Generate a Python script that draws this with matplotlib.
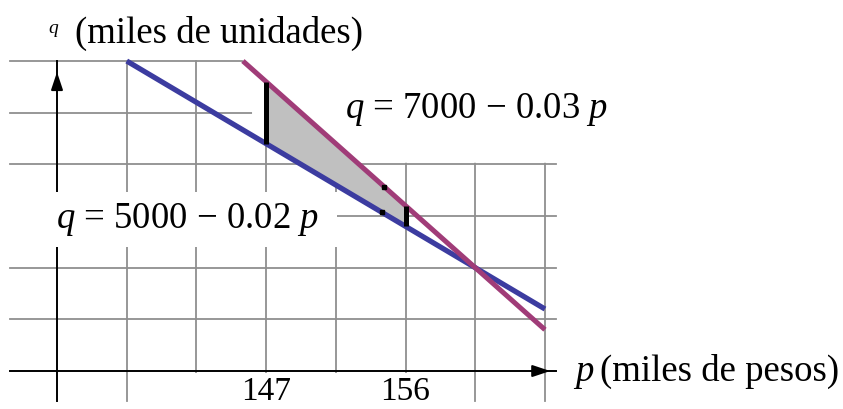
import numpy as np
import matplotlib
matplotlib.use('Agg')
import matplotlib.pyplot as plt
from matplotlib.patches import Rectangle, Polygon

plt.rcParams['font.family'] = 'Liberation Serif'
plt.rcParams['mathtext.fontset'] = 'custom'
plt.rcParams['mathtext.rm'] = 'Liberation Serif'
plt.rcParams['mathtext.it'] = 'Liberation Serif:italic'

### Data (p in thousands of pesos, q in grid units)
p_ticks = [147, 156]
p_tick_labels = ['147', '156']
p_grid = [138, 142.5, 147, 151.5, 156, 160.5, 165]
q_grid = [1, 2, 3, 4, 5, 6]

# q = 5000 - 0.02 p
line_a_p = [138, 165]
line_a_q = [6.0, 1.2]
# q = 7000 - 0.03 p
line_b_p = [145.5, 165]
line_b_q = [6.0, 0.8]

# shaded strip between the two lines
area_p = [147, 156]
area_low = [4.4, 2.8]
area_high = [5.6, 3.2]

# stray dots next to the strip
dot_p = [154.5, 154.6]
dot_q = [3.08, 3.56]

grid_color = '#8f8f8f'
blue = '#3c3ca0'
purple = '#a03c78'

fig = plt.figure(figsize=(8.43, 4.10), dpi=100)
ax = fig.add_axes([0, 0, 1, 1])
ax.set_xlim(129.82, 184.24)
ax.set_ylim(-0.735, 7.2)
ax.axis('off')

### Grid
for q in q_grid:
    ax.plot([130.47, 165.71], [q, q], color=grid_color, lw=1.3, zorder=1)
for p in p_grid:
    ax.plot([p, p], [-0.58, 6], color=grid_color, lw=1.3, zorder=1)

# y axis (under the label masks)
ax.plot([133.5, 133.5], [-0.58, 6], color='black', lw=1.4, zorder=1.5)
ax.annotate('', xy=(133.5, 5.84), xytext=(133.5, 5.5),
            arrowprops=dict(arrowstyle='-|>,head_length=0.9,head_width=0.3',
                            color='black', lw=1.4, mutation_scale=12),
            zorder=6)

### White masks behind the labels
top_left = 146.09
qa_top = np.interp(top_left, line_a_p, line_a_q)
qb_top = np.interp(top_left, line_b_p, line_b_q)
pa_mid = np.interp(-4.03, [-q for q in line_a_q], line_a_p)
mask = Polygon([(line_b_p[0], 7.3), (185, 7.3), (185, 4.03), (pa_mid, 4.03),
                (top_left, qa_top), (top_left, qb_top), (line_b_p[0], line_b_q[0])],
               closed=True, fc='white', ec='none', zorder=2)
ax.add_patch(mask)
ax.add_patch(Rectangle((129.7, 2.40), 151.55 - 129.7, 1.06,
                       fc='white', ec='none', zorder=2))
ax.add_patch(Rectangle((141.9, -0.8), 157.1 - 141.9, 0.77,
                       fc='white', ec='none', zorder=2))

### Shaded area, lines and vertical segments
ax.fill_between(area_p, area_low, area_high, color='#c0c0c0', lw=0, zorder=3)
ax.plot(line_a_p, line_a_q, color=blue, lw=3.8, solid_capstyle='butt', zorder=4)
ax.plot(line_b_p, line_b_q, color=purple, lw=3.6, solid_capstyle='butt', zorder=4)
ax.vlines(area_p, area_low, area_high, colors='black', lw=3.6, zorder=5)
ax.plot(dot_p, dot_q, 's', color='black', ms=2.5, zorder=5)

### x axis
ax.plot([130.47, 165.71], [0, 0], color='black', lw=1.4, zorder=6)
ax.annotate('', xy=(165.52, 0), xytext=(164.0, 0),
            arrowprops=dict(arrowstyle='-|>,head_length=0.9,head_width=0.3',
                            color='black', lw=1.4, mutation_scale=12),
            zorder=6)

### Text
fs = 24
fs_lab = 26.5
for p, lab in zip(p_ticks, p_tick_labels):
    ax.text(p, -0.55, lab, ha='center', va='baseline', fontsize=fs, zorder=7)

ax.text(132.92, 6.56, '$q$', ha='left', va='baseline', fontsize=14, zorder=7)
ax.text(134.66, 6.37, '(miles de unidades)', ha='left', va='baseline',
        fontsize=fs_lab, zorder=7)
ax.text(166.81, -0.174, '$p$', ha='left', va='baseline', fontsize=fs_lab, zorder=7)
ax.text(168.55, -0.174, '(miles de pesos)', ha='left', va='baseline',
        fontsize=fs_lab, zorder=7)
ax.text(152.09, 4.92, '$q$ = 7000 \u2212 0.03 $p$', ha='left', va='baseline',
        fontsize=fs_lab, zorder=7)
ax.text(133.44, 2.79, '$q$ = 5000 \u2212 0.02 $p$', ha='left', va='baseline',
        fontsize=fs_lab, zorder=7)

fig.savefig('out.png', dpi=100)
